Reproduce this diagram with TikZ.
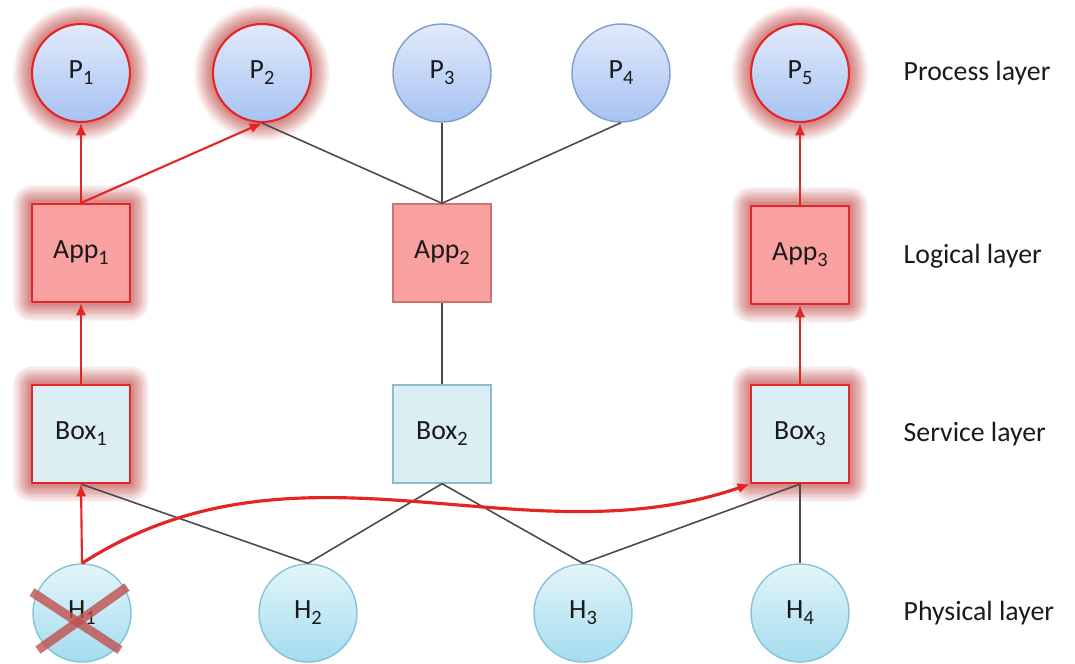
\documentclass[tikz,border=0pt]{standalone}
\usepackage{fontspec}
\setmainfont{Carlito}
\usetikzlibrary{arrows.meta}

\definecolor{proctop}{HTML}{E2EAFB}
\definecolor{procbot}{HTML}{A6C2F2}
\definecolor{procline}{HTML}{7E9DCF}
\definecolor{phystop}{HTML}{E4F5FA}
\definecolor{physbot}{HTML}{A3DCEF}
\definecolor{physline}{HTML}{86C3D6}
\definecolor{appfill}{HTML}{F9A1A0}
\definecolor{appline}{HTML}{CC7472}
\definecolor{boxfill}{HTML}{DBEEF4}
\definecolor{boxline}{HTML}{8FBCCB}
\definecolor{hotred}{HTML}{E42525}
\definecolor{glowred}{HTML}{C0504D}
\definecolor{linkgray}{HTML}{4A4A4A}
\definecolor{textdark}{HTML}{1A1A1A}

% lowered index for the node names
\newcommand{\lowidx}[1]{\raisebox{-0.45ex}{\fontsize{5.8}{6}\selectfont #1}}

\tikzset{
    >={Latex[length=3.5pt,width=3pt]},
    every node/.style={font=\fontsize{7.9}{9.5}\selectfont, text=textdark, inner sep=0pt},
    proc/.style={circle, minimum size=0.98cm, draw=procline, line width=0.4pt, top color=proctop, bottom color=procbot},
    phys/.style={circle, minimum size=0.98cm, draw=physline, line width=0.4pt, top color=phystop, bottom color=physbot},
    logic/.style={rectangle, minimum size=0.98cm, draw=appline, line width=0.4pt, fill=appfill},
    serv/.style={rectangle, minimum size=0.98cm, draw=boxline, line width=0.4pt, fill=boxfill},
    hot/.style={draw=hotred, line width=0.6pt, line join=round,
        preaction={draw=glowred, line width=11pt, opacity=0.06},
        preaction={draw=glowred, line width=10pt, opacity=0.07},
        preaction={draw=glowred, line width=9pt, opacity=0.08},
        preaction={draw=glowred, line width=8pt, opacity=0.09},
        preaction={draw=glowred, line width=7pt, opacity=0.10},
        preaction={draw=glowred, line width=6pt, opacity=0.10},
        preaction={draw=glowred, line width=5pt, opacity=0.11},
        preaction={draw=glowred, line width=4pt, opacity=0.12},
        preaction={draw=glowred, line width=3pt, opacity=0.13},
        preaction={draw=glowred, line width=2pt, opacity=0.15}},
    link/.style={draw=linkgray, line width=0.45pt},
    redlink/.style={draw=hotred, line width=0.6pt, ->},
    cross/.style={draw=glowred, line width=0.09cm, opacity=0.8},
}

\begin{document}
\begin{tikzpicture}
    \useasboundingbox (0, 0) rectangle (10.75, 6.63);

    % Process layer
    \node[proc, hot] (p1) at (0.81, 5.90) {P\lowidx{1}};
    \node[proc, hot] (p2) at (2.62, 5.90) {P\lowidx{2}};
    \node[proc] (p3) at (4.42, 5.90) {P\lowidx{3}};
    \node[proc] (p4) at (6.21, 5.90) {P\lowidx{4}};
    \node[proc, hot] (p5) at (8.00, 5.90) {P\lowidx{5}};

    % Logical layer
    \node[logic, hot] (app1) at (0.81, 4.10) {App\lowidx{1}};
    \node[logic] (app2) at (4.42, 4.10) {App\lowidx{2}};
    \node[logic, hot] (app3) at (8.00, 4.08) {App\lowidx{3}};

    % Service layer
    \node[serv, hot] (box1) at (0.81, 2.29) {Box\lowidx{1}};
    \node[serv] (box2) at (4.42, 2.29) {Box\lowidx{2}};
    \node[serv, hot] (box3) at (8.00, 2.29) {Box\lowidx{3}};

    % Physical layer
    \node[phys] (h1) at (0.82, 0.50) {H\lowidx{1}};
    \node[phys] (h2) at (3.08, 0.50) {H\lowidx{2}};
    \node[phys] (h3) at (5.83, 0.50) {H\lowidx{3}};
    \node[phys] (h4) at (8.00, 0.50) {H\lowidx{4}};

    % Layer names
    \node[anchor=west] (lproc) at (9.03, 5.90) {Process layer};
    \node[anchor=west] (llogic) at (9.03, 4.07) {Logical layer};
    \node[anchor=west] (lserv) at (9.03, 2.29) {Service layer};
    \node[anchor=west] (lphys) at (9.03, 0.50) {Physical layer};

    % Plain links
    \draw[link] (p2.south) -- (app2.north);
    \draw[link] (p3.south) -- (app2.north);
    \draw[link] (p4.south) -- (app2.north);
    \draw[link] (app2.south) -- (box2.north);
    \draw[link] (box1.south) -- (h2.north);
    \draw[link] (box2.south) -- (h2.north);
    \draw[link] (box2.south) -- (h3.north);
    \draw[link] (box3.south) -- (h3.north);
    \draw[link] (box3.south) -- (h4.north);

    % Failover path
    \draw[redlink] (h1.north) -- (box1.south);
    \draw[redlink] (box1.north) -- (app1.south);
    \draw[redlink] (app1.north) -- (p1.south);
    \draw[redlink] (app1.north) -- (p2.south);
    \draw[redlink] (box3.north) -- (app3.south);
    \draw[redlink] (app3.north) -- (p5.south);
    \draw[redlink, line width=0.9pt] (h1.north) .. controls (3.0, 2.4) and (5.2, 1.0) .. (box3.south west);

    % Failed host
    \draw[cross] ([shift={(-0.50, 0.21)}]h1.center) -- ([shift={(0.38, -0.37)}]h1.center);
    \draw[cross] ([shift={(0.45, 0.26)}]h1.center) -- ([shift={(-0.44, -0.37)}]h1.center);
\end{tikzpicture}
\end{document}
